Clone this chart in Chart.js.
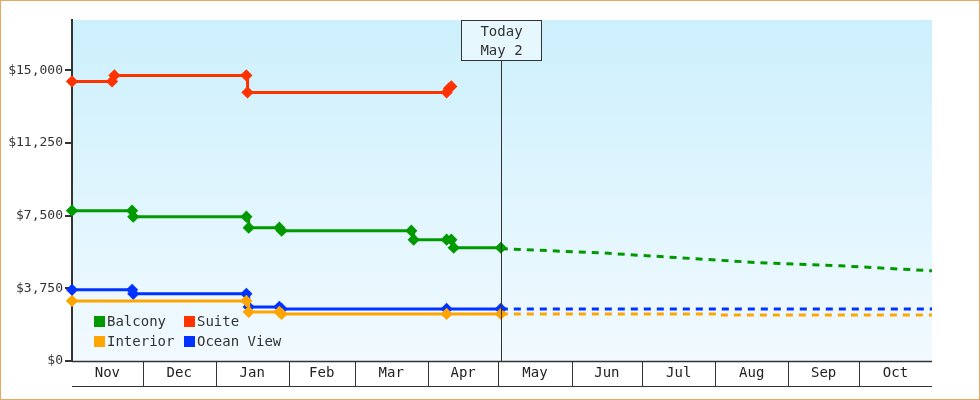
<!DOCTYPE html>
<html>
<head>
<meta charset="utf-8">
<script src="https://cdn.jsdelivr.net/npm/chart.js@4"></script>
<style>
  html, body { margin: 0; padding: 0; background: #fff; }
  #wrap { position: relative; width: 978px; height: 398px; border: 1px solid #e8a860; }
</style>
</head>
<body>
<div id="wrap"><canvas id="chart"></canvas></div>
<script>
// x values are days counted from Nov 1
const monthLabels = ["Nov","Dec","Jan","Feb","Mar","Apr","May","Jun","Jul","Aug","Sep","Oct"];
const monthStarts = [0, 30, 61, 92, 120, 151, 181, 212, 242, 273, 304, 334, 365];
const yTicks = [0, 3750, 7500, 11250, 15000];
const todayDay = 182;
const todayLabel = ["Today", "May 2"];

const balconyX = [0, 25.5, 26, 74, 75, 88, 89, 144, 145, 159, 161, 162, 182];
const balconyY = [7759, 7759, 7448, 7448, 6879, 6879, 6724, 6724, 6259, 6259, 6259, 5845, 5845];
const suiteX = [0, 17, 18, 74, 74.5, 159, 160, 161];
const suiteY = [14431, 14431, 14741, 14741, 13862, 13862, 14069, 14172];
const oceanX = [0, 25.5, 26, 74, 75, 88, 89, 159, 182];
const oceanY = [3672, 3672, 3466, 3466, 2793, 2793, 2690, 2690, 2690];
const interiorX = [0, 74, 75, 88, 89, 159, 182];
const interiorY = [3103, 3103, 2534, 2534, 2431, 2431, 2431];

// forecast after today
const balconyFcX = [182, 224, 258, 292, 326, 365];
const balconyFcY = [5793, 5586, 5328, 5069, 4914, 4655];
const oceanFcX = [182, 365];
const oceanFcY = [2690, 2690];
const interiorFcX = [182, 275, 365];
const interiorFcY = [2431, 2380, 2380];

const colors = { balcony: "#009900", suite: "#ff3300", interior: "#ffa500", ocean: "#0033ff" };
const legendItems = [
    ["Balcony", colors.balcony], ["Suite", colors.suite],
    ["Interior", colors.interior], ["Ocean View", colors.ocean]
];
const FONT = "DejaVu Sans Mono";

function pts(xs, ys) { return xs.map((x, i) => ({ x: x, y: ys[i] })); }

function series(xs, ys, color) {
    return {
        data: pts(xs, ys), borderColor: color, backgroundColor: color,
        borderWidth: 3, stepped: true, pointStyle: "rectRot",
        pointRadius: 4, pointHoverRadius: 4, clip: false
    };
}
function forecast(xs, ys, color, stepped) {
    return {
        data: pts(xs, ys), borderColor: color, borderWidth: 3,
        borderDash: [7, 6], stepped: stepped, pointRadius: 0
    };
}

const decor = {
    id: "decor",
    beforeDraw(chart) {
        const { ctx, chartArea: a } = chart;
        const g = ctx.createLinearGradient(0, a.top, 0, a.bottom);
        g.addColorStop(0, "#ccf0fc");
        g.addColorStop(1, "#f2faff");
        ctx.save();
        ctx.fillStyle = g;
        ctx.fillRect(a.left, a.top, a.right - a.left, a.bottom - a.top);
        ctx.restore();
    },
    afterDraw(chart) {
        const { ctx, chartArea: a, scales } = chart;
        const x = scales.x;
        ctx.save();
        // month band
        ctx.strokeStyle = "#333";
        ctx.lineWidth = 1;
        monthStarts.forEach((d, i) => {
            if (i === 0 || i === monthStarts.length - 1) return;
            const px = Math.round(x.getPixelForValue(d)) + 0.5;
            ctx.beginPath(); ctx.moveTo(px, a.bottom); ctx.lineTo(px, a.bottom + 25); ctx.stroke();
        });
        ctx.beginPath(); ctx.moveTo(a.left, a.bottom + 25.5); ctx.lineTo(a.right, a.bottom + 25.5); ctx.stroke();
        ctx.lineWidth = 1.5;
        ctx.beginPath(); ctx.moveTo(a.left, a.bottom + 0.5); ctx.lineTo(a.right, a.bottom + 0.5); ctx.stroke();
        // today marker
        const tx = Math.round(x.getPixelForValue(todayDay)) + 0.5;
        ctx.lineWidth = 1;
        ctx.beginPath(); ctx.moveTo(tx, a.top + 40); ctx.lineTo(tx, a.bottom); ctx.stroke();
        ctx.fillStyle = "#e6f7fd";
        ctx.fillRect(tx - 40, a.top, 80, 40);
        ctx.strokeRect(tx - 40, a.top + 0.5, 80, 40);
        ctx.fillStyle = "#333";
        ctx.font = "14px '" + FONT + "'";
        ctx.textAlign = "center";
        ctx.textBaseline = "middle";
        ctx.fillText(todayLabel[0], tx, a.top + 12);
        ctx.fillText(todayLabel[1], tx, a.top + 31);
        // legend
        ctx.textAlign = "left";
        legendItems.forEach((it, i) => {
            const lx = a.left + 22 + (i % 2) * 90;
            const ly = a.bottom - 40 + Math.floor(i / 2) * 20;
            ctx.fillStyle = it[1];
            ctx.fillRect(lx, ly - 5, 11, 11);
            ctx.fillStyle = "#333";
            ctx.fillText(it[0], lx + 13, ly + 1);
        });
        ctx.restore();
    }
};

new Chart(document.getElementById("chart"), {
    type: "line",
    data: {
        datasets: [
            forecast(balconyFcX, balconyFcY, colors.balcony, false),
            forecast(interiorFcX, interiorFcY, colors.interior, true),
            forecast(oceanFcX, oceanFcY, colors.ocean, true),
            series(interiorX, interiorY, colors.interior),
            series(oceanX, oceanY, colors.ocean),
            series(balconyX, balconyY, colors.balcony),
            series(suiteX, suiteY, colors.suite)
        ]
    },
    plugins: [decor],
    options: {
        responsive: true,
        maintainAspectRatio: false,
        animation: false,
        layout: { padding: { top: 19, right: 47, bottom: 0, left: 0 } },
        plugins: { legend: { display: false }, tooltip: { enabled: false } },
        scales: {
            x: {
                type: "linear", min: 0, max: 365,
                afterBuildTicks(scale) {
                    scale.ticks = monthLabels.map((m, i) => ({ value: (monthStarts[i] + monthStarts[i + 1]) / 2 }));
                },
                grid: { display: false },
                border: { display: false },
                ticks: {
                    callback: (v, i) => monthLabels[i],
                    autoSkip: false, maxRotation: 0, padding: -4,
                    color: "#222", font: { family: FONT, size: 14 }
                },
                afterFit(scale) { scale.height = 38; }
            },
            y: {
                min: 0, max: 17600,
                afterBuildTicks(scale) { scale.ticks = yTicks.map(v => ({ value: v })); },
                grid: { drawOnChartArea: false, tickLength: 7, color: "#333", lineWidth: 2 },
                border: { display: true, color: "#333", width: 2 },
                ticks: {
                    callback: v => "$" + v.toLocaleString("en-US"),
                    padding: 2, color: "#333", font: { family: FONT, size: 13 }
                },
                afterFit(scale) { scale.width = 71; }
            }
        }
    }
});
</script>
</body>
</html>
